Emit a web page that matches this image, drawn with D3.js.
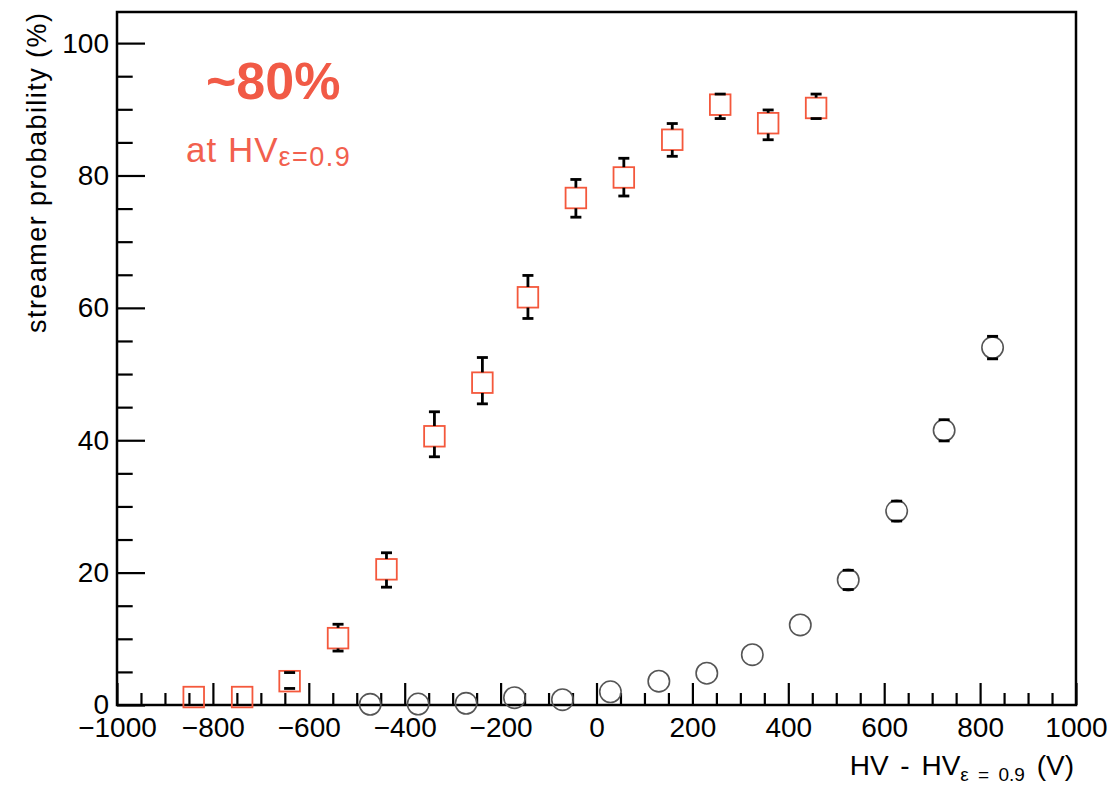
<!DOCTYPE html>
<html>
<head>
<meta charset="utf-8">
<script src="https://cdn.jsdelivr.net/npm/d3@7"></script>
<style>
  body { margin: 0; background: #fff; }
  text { font-family: "Liberation Sans", Arial, Helvetica, sans-serif; }
</style>
</head>
<body>
<div class="chart"></div>
<script>
// squares: streamer probability (red markers, with errors)
var sqX = [-840, -739, -640, -539, -438, -338, -238, -143, -43, 57, 158, 258, 358, 458];
var sqY = [1.2, 1.2, 3.6, 10.1, 20.5, 40.6, 48.7, 61.6, 76.6, 79.7, 85.4, 90.7, 87.9, 90.2];
var sqLo = [0, 0, 2.5, 8.15, 17.8, 37.5, 45.5, 58.4, 73.7, 76.9, 82.9, 88.6, 85.4, 88.6];
var sqHi = [0, 0, 4.9, 12.2, 23.0, 44.3, 52.5, 64.9, 79.4, 82.6, 87.85, 92.3, 89.9, 92.3];

// circles: second series (grey open markers)
var ciX = [-472, -372, -272, -171, -71, 29, 130, 230, 325, 425, 525, 626, 725, 826];
var ciY = [0.1, 0.15, 0.25, 1.1, 0.8, 2.0, 3.6, 4.8, 7.6, 12.1, 18.9, 29.3, 41.5, 54.0];
var ciErr = [0, 0, 0, 0, 0, 0, 0, 0, 0, 0, 1.45, 1.5, 1.6, 1.7];

var xMajor = d3.range(-1000, 1001, 200);
var xMinor = d3.range(-1000, 1001, 50).filter(d => d % 200 !== 0);
var yMajor = [0, 20, 40, 60, 80, 100];
var yMinor = d3.range(0, 101, 5).filter(d => d % 20 !== 0);

var svgWidth = 1116;
var svgHeight = 785;

var frame = { left: 117, right: 1076, top: 12, bottom: 705 };

var svg = d3.select(".chart")
    .append("svg")
    .attr("width", svgWidth)
    .attr("height", svgHeight);

var x = d3.scaleLinear()
    .domain([-1000, 1000])
    .range([frame.left, frame.right]);

var y = d3.scaleLinear()
    .domain([0, 104.7])
    .range([frame.bottom, frame.top]);

// axes, ticks pointing inwards like ROOT
var xAxisMajor = d3.axisBottom(x)
    .tickValues(xMajor)
    .tickFormat(d3.format("d"))
    .tickSizeInner(-22)
    .tickSizeOuter(0)
    .tickPadding(12);

var xAxisMinor = d3.axisBottom(x)
    .tickValues(xMinor)
    .tickSizeInner(-12)
    .tickSizeOuter(0)
    .tickFormat("");

var yAxisMajor = d3.axisLeft(y)
    .tickValues(yMajor)
    .tickFormat(d3.format("d"))
    .tickSizeInner(-28)
    .tickSizeOuter(0)
    .tickPadding(8);

var yAxisMinor = d3.axisLeft(y)
    .tickValues(yMinor)
    .tickSizeInner(-15.7)
    .tickSizeOuter(0)
    .tickFormat("");

function styleAxis(g) {
    g.select(".domain").remove();
    g.selectAll("line").attr("stroke", "#000").attr("stroke-width", 2.2);
    g.selectAll("text")
        .attr("fill", "#000")
        .style("font-size", "28px");
}

svg.append("g")
    .attr("transform", `translate(0, ${frame.bottom})`)
    .call(xAxisMinor)
    .call(styleAxis);

svg.append("g")
    .attr("transform", `translate(0, ${frame.bottom})`)
    .call(xAxisMajor)
    .call(styleAxis);

svg.append("g")
    .attr("transform", `translate(${frame.left}, 0)`)
    .call(yAxisMinor)
    .call(styleAxis);

svg.append("g")
    .attr("transform", `translate(${frame.left}, 0)`)
    .call(yAxisMajor)
    .call(styleAxis);

svg.append("rect")
    .attr("x", frame.left)
    .attr("y", frame.top)
    .attr("width", frame.right - frame.left)
    .attr("height", frame.bottom - frame.top)
    .attr("fill", "none")
    .attr("stroke", "#000")
    .attr("stroke-width", 2.5);

// axis titles
svg.append("text")
    .attr("transform", "translate(46, 13) rotate(-90)")
    .attr("text-anchor", "end")
    .attr("textLength", 320)
    .attr("lengthAdjust", "spacing")
    .style("font-size", "27px")
    .attr("fill", "#000")
    .text("streamer probability (%)");

var xTitle = svg.append("text")
    .attr("x", 1074)
    .attr("y", 775)
    .attr("text-anchor", "end")
    .attr("fill", "#000")
    .style("font-size", "28px")
    .style("word-spacing", "4px");
xTitle.append("tspan").text("HV - HV");
xTitle.append("tspan").attr("dy", 6).style("font-size", "19px").text("ε = 0.9");
xTitle.append("tspan").attr("dy", -6).text(" (V)");

// annotation
svg.append("text")
    .attr("x", 206)
    .attr("y", 99)
    .attr("fill", "#F15A46")
    .style("font-size", "52px")
    .style("font-weight", "bold")
    .text("~80%");

var note = svg.append("text")
    .attr("x", 186)
    .attr("y", 162)
    .attr("fill", "#F2604E")
    .style("font-size", "35px")
    .style("font-weight", "300")
    .style("letter-spacing", "1px");
note.append("tspan").text("at HV");
note.append("tspan").attr("dy", 4).style("font-size", "27px").style("letter-spacing", "1.5px").text("ε=0.9");

var squares = sqX.map((d, i) => ({ x: d, y: sqY[i], lo: sqLo[i], hi: sqHi[i] }));
var circles = ciX.map((d, i) => ({ x: d, y: ciY[i], lo: ciY[i] - ciErr[i], hi: ciY[i] + ciErr[i], e: ciErr[i] }));

var half = 10.3;
var rad = 10.7;
var capW = 5.5;

svg.append("g")
    .selectAll("rect")
    .data(squares)
    .enter()
    .append("rect")
    .attr("x", d => x(d.x) - half)
    .attr("y", d => y(d.y) - half)
    .attr("width", half * 2)
    .attr("height", half * 2)
    .attr("fill", "none")
    .attr("stroke", "#F4583C")
    .attr("stroke-width", 1.8);

svg.append("g")
    .selectAll("circle")
    .data(circles)
    .enter()
    .append("circle")
    .attr("cx", d => x(d.x))
    .attr("cy", d => y(d.y))
    .attr("r", rad)
    .attr("fill", "none")
    .attr("stroke", "#555")
    .attr("stroke-width", 1.6);

// error bars: line only outside the marker, cap at the end
function drawErrors(data, size) {
    var g = svg.append("g")
        .attr("stroke", "#000")
        .attr("stroke-width", 2.8);
    data.filter(d => d.hi > d.y).forEach(function(d) {
        var cx = x(d.x);
        var cy = y(d.y);
        var yHi = y(d.hi);
        var yLo = y(d.lo);
        if (cy - yHi > size) {
            g.append("line").attr("x1", cx).attr("x2", cx).attr("y1", cy - size).attr("y2", yHi);
        }
        if (yLo - cy > size) {
            g.append("line").attr("x1", cx).attr("x2", cx).attr("y1", cy + size).attr("y2", yLo);
        }
        g.append("line").attr("x1", cx - capW).attr("x2", cx + capW).attr("y1", yHi).attr("y2", yHi);
        g.append("line").attr("x1", cx - capW).attr("x2", cx + capW).attr("y1", yLo).attr("y2", yLo);
    });
}

drawErrors(squares, half);
drawErrors(circles, rad);
</script>
</body>
</html>
